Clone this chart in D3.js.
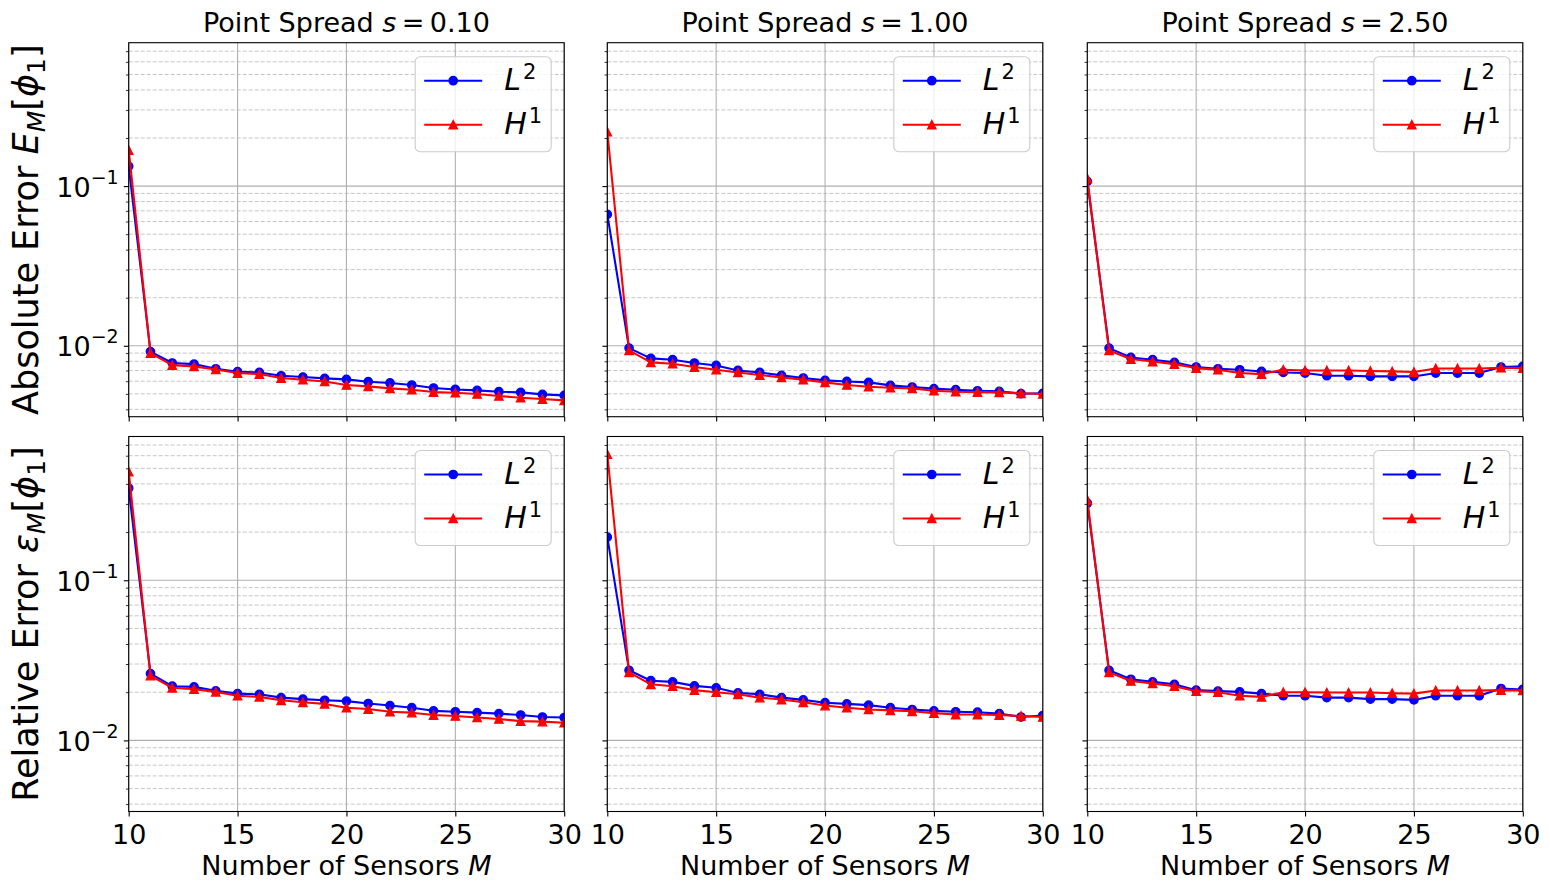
<!DOCTYPE html>
<html><head><meta charset="utf-8">
<script src="https://cdn.jsdelivr.net/npm/d3@7"></script>
<style>body{margin:0;background:#fff} svg{display:block} text{font-family:"DejaVu Sans",sans-serif;fill:#000}</style>
</head><body><svg id="c" width="1550" height="893"></svg>
<script>
const sensors = [10,11,12,13,14,15,16,17,18,19,20,21,22,23,24,25,26,27,28,29,30];
const spreads = ["0.10","1.00","2.50"];
const xTickValues = [10,15,20,25,30];
const yMajorTicks = [0.01, 0.1];
const yMajorLabels = ["\u22122", "\u22121"];
const yMinorTicks = [0.004,0.005,0.006,0.007,0.008,0.009,0.02,0.03,0.04,0.05,0.06,0.07,0.08,0.09,0.2,0.3,0.4,0.5,0.6,0.7];
const seriesNames = ["L", "H"];
const seriesSup = ["2", "1"];

const absL2_s010 = [0.133,0.0092,0.0078,0.00768,0.00718,0.00688,0.00681,0.00649,0.00637,0.00625,0.00616,0.00596,0.00585,0.00568,0.00544,0.00533,0.00526,0.00516,0.00511,0.00496,0.00489];
const absH1_s010 = [0.168,0.0090,0.00757,0.00743,0.00711,0.00675,0.00665,0.00628,0.00613,0.00598,0.00568,0.00557,0.00541,0.00531,0.00513,0.00508,0.00499,0.00485,0.00473,0.00464,0.00455];
const absL2_s100 = [0.0665,0.00967,0.00834,0.00818,0.00780,0.00753,0.00701,0.00681,0.00653,0.00628,0.00607,0.00598,0.00590,0.00565,0.00552,0.00539,0.00531,0.00523,0.00518,0.00501,0.00504];
const absH1_s100 = [0.219,0.00935,0.00787,0.00772,0.00736,0.00708,0.00681,0.00656,0.00634,0.00613,0.00590,0.00568,0.00554,0.00546,0.00541,0.00523,0.00516,0.00513,0.00511,0.00504,0.00499];
const absL2_s250 = [0.107,0.00967,0.00845,0.00818,0.00787,0.00736,0.00718,0.00708,0.00691,0.00681,0.00675,0.00649,0.00649,0.00643,0.00643,0.00643,0.00675,0.00675,0.00675,0.00736,0.00743];
const absH1_s250 = [0.1117,0.00935,0.00826,0.00797,0.00768,0.00725,0.00708,0.00675,0.00665,0.00708,0.00701,0.00701,0.00701,0.00695,0.00691,0.00685,0.00721,0.00721,0.00721,0.00729,0.00725];
const relL2_s010 = [0.376,0.0261,0.0218,0.0216,0.0204,0.0196,0.0194,0.0185,0.0181,0.0178,0.0176,0.0170,0.0165,0.0160,0.0153,0.0151,0.0149,0.0147,0.0144,0.0140,0.0139];
const relH1_s010 = [0.477,0.0254,0.0213,0.0209,0.0201,0.0190,0.0187,0.0178,0.0173,0.0169,0.0160,0.0157,0.0151,0.0149,0.0144,0.0142,0.0139,0.0136,0.0132,0.0131,0.0129];
const relL2_s100 = [0.186,0.0274,0.0236,0.0232,0.0219,0.0213,0.0198,0.0194,0.0185,0.0179,0.0172,0.0169,0.0166,0.0160,0.0156,0.0153,0.0151,0.0150,0.0147,0.0140,0.0143];
const relH1_s100 = [0.613,0.0266,0.0224,0.0218,0.0206,0.0200,0.0194,0.0185,0.0180,0.0173,0.0165,0.0160,0.0156,0.0154,0.0152,0.0148,0.0145,0.0145,0.0144,0.0142,0.0140];
const relL2_s250 = [0.303,0.0274,0.0241,0.0232,0.0224,0.0206,0.0203,0.0201,0.0196,0.0190,0.0190,0.0185,0.0185,0.0181,0.0181,0.0179,0.0190,0.0190,0.0190,0.0211,0.0208];
const relH1_s250 = [0.318,0.0266,0.0235,0.0227,0.0218,0.0203,0.0200,0.0190,0.0187,0.0200,0.0200,0.0199,0.0199,0.0199,0.0197,0.0196,0.0205,0.0205,0.0205,0.0206,0.0205];

const grid = [
  [[absL2_s010, absH1_s010],[absL2_s100, absH1_s100],[absL2_s250, absH1_s250]],
  [[relL2_s010, relH1_s010],[relL2_s100, relH1_s100],[relL2_s250, relH1_s250]]
];
const colors = ["#0000ff", "#ff0000"];

const svg = d3.select("#c");
const colLeft = [128.7, 607.3, 1087.3], colW = 435.5;
const rowTop = [42.7, 436.5], rowH = [374, 375];
const yDomain = [0.003597, 0.7907];
const TICK = 4.9, MINOR = 2.8;
const FS = 27;

function triPath(r){ return `M0,${-r}L${-r},${r}L${r},${r}Z`; }

for (let r = 0; r < 2; r++) {
  for (let c = 0; c < 3; c++) {
    const L = colLeft[c], T = rowTop[r], W = colW, H = rowH[r];
    const x = d3.scaleLinear().domain([10, 30]).range([L, L + W]);
    const y = d3.scaleLog().domain(yDomain).range([T + H, T]);
    const g = svg.append("g");
    const cid = `clip${r}${c}`;
    svg.append("clipPath").attr("id", cid).append("rect")
      .attr("x", L).attr("y", T).attr("width", W).attr("height", H);

    g.selectAll(".mg").data(yMinorTicks).join("line")
      .attr("x1", L).attr("x2", L + W)
      .attr("y1", d => y(d)).attr("y2", d => y(d))
      .attr("stroke", "#b8b8b8").attr("stroke-width", 0.8)
      .attr("stroke-dasharray", "4,2");
    g.selectAll(".Mg").data(yMajorTicks).join("line")
      .attr("x1", L).attr("x2", L + W)
      .attr("y1", d => y(d)).attr("y2", d => y(d))
      .attr("stroke", "#b0b0b0").attr("stroke-width", 1.1);
    g.selectAll(".xg").data(xTickValues).join("line")
      .attr("x1", d => x(d)).attr("x2", d => x(d))
      .attr("y1", T).attr("y2", T + H)
      .attr("stroke", "#b0b0b0").attr("stroke-width", 1.1);

    const pg = g.append("g").attr("clip-path", `url(#${cid})`);
    grid[r][c].forEach((vals, si) => {
      const pts = sensors.map((s, i) => [s, vals[i]]);
      pg.append("path").datum(pts)
        .attr("d", d3.line().x(d => x(d[0])).y(d => y(d[1])))
        .attr("fill", "none").attr("stroke", colors[si]).attr("stroke-width", 2.1)
        .attr("stroke-linejoin", "round");
      if (si === 0) {
        pg.selectAll(null).data(pts).join("circle")
          .attr("cx", d => x(d[0])).attr("cy", d => y(d[1])).attr("r", 4.2)
          .attr("fill", colors[si]).attr("stroke", colors[si]).attr("stroke-width", 1.3);
      } else {
        pg.selectAll(null).data(pts).join("path")
          .attr("transform", d => `translate(${x(d[0])},${y(d[1])})`)
          .attr("d", triPath(4.2))
          .attr("fill", colors[si]).attr("stroke", colors[si]).attr("stroke-width", 1.3)
          .attr("stroke-linejoin", "miter");
      }
    });

    const xa = g.append("g").attr("transform", `translate(0,${T + H})`)
      .call(d3.axisBottom(x).tickValues(xTickValues).tickSize(TICK).tickFormat(r === 1 ? d3.format("d") : ""));
    xa.select(".domain").remove();
    xa.selectAll(".tick line").attr("stroke", "#000").attr("stroke-width", 1.1);
    xa.selectAll(".tick text").attr("y", 32).attr("dy", 0)
      .style("font-size", FS + "px").style("font-family", "DejaVu Sans");

    const ym = g.append("g").attr("transform", `translate(${L},0)`)
      .call(d3.axisLeft(y).tickValues(yMinorTicks).tickSize(MINOR).tickFormat(""));
    ym.select(".domain").remove();
    ym.selectAll(".tick line").attr("stroke", "#000").attr("stroke-width", 0.8);
    const yM = g.append("g").attr("transform", `translate(${L},0)`)
      .call(d3.axisLeft(y).tickValues(yMajorTicks).tickSize(TICK).tickFormat(""));
    yM.select(".domain").remove();
    yM.selectAll(".tick line").attr("stroke", "#000").attr("stroke-width", 1.1);
    if (c === 0) {
      yM.selectAll(".tick").each(function(d, i) {
        const t = d3.select(this).append("text")
          .attr("x", -10).attr("y", 10).attr("text-anchor", "end")
          .style("font-size", FS + "px").style("font-family", "DejaVu Sans");
        t.append("tspan").text("10");
        t.append("tspan").attr("dy", -13).style("font-size", "19px").text(yMajorLabels[i]);
      });
    }

    g.append("rect").attr("x", L).attr("y", T).attr("width", W).attr("height", H)
      .attr("fill", "none").attr("stroke", "#000").attr("stroke-width", 1.1);

    const LW = 136, LH = 95;
    const lg = g.append("g").attr("transform", `translate(${L + W - 13 - LW},${T + 14})`);
    lg.append("rect").attr("width", LW).attr("height", LH).attr("rx", 5)
      .attr("fill", "#fff").attr("fill-opacity", 0.8)
      .attr("stroke", "#cccccc").attr("stroke-width", 1.1);
    const rowsY = [24, 68];
    seriesNames.forEach((nm, si) => {
      const yy = rowsY[si];
      lg.append("line").attr("x1", 9).attr("x2", 67).attr("y1", yy).attr("y2", yy)
        .attr("stroke", colors[si]).attr("stroke-width", 2.1);
      if (si === 0) {
        lg.append("circle").attr("cx", 38).attr("cy", yy).attr("r", 4.2)
          .attr("fill", colors[si]).attr("stroke", colors[si]).attr("stroke-width", 1.3);
      } else {
        lg.append("path").attr("transform", `translate(38,${yy})`).attr("d", triPath(4.2))
          .attr("fill", colors[si]).attr("stroke", colors[si]).attr("stroke-width", 1.3);
      }
      const t = lg.append("text").attr("x", 89).attr("y", yy + 9.5).style("font-size", "30px");
      t.append("tspan").style("font-style", "italic").text(nm);
      t.append("tspan").attr("dx", 2).attr("dy", -11).style("font-size", "21px").text(seriesSup[si]);
    });

    if (r === 0) {
      const t = svg.append("text").attr("x", L + W / 2).attr("y", 32)
        .attr("text-anchor", "middle").style("font-size", FS + "px");
      t.append("tspan").text("Point Spread ");
      t.append("tspan").style("font-style", "italic").text("s");
      t.append("tspan").text("\u2009=\u2009" + spreads[c]);
    }
    if (r === 1) {
      const t = svg.append("text").attr("x", L + W / 2).attr("y", 875)
        .attr("text-anchor", "middle").style("font-size", FS + "px");
      t.append("tspan").text("Number of Sensors ");
      t.append("tspan").style("font-style", "italic").text("M");
    }
    if (c === 0) {
      const cy = T + H / 2;
      const t = svg.append("text").attr("transform", `translate(38.3,${cy}) rotate(-90)`)
        .attr("text-anchor", "middle").style("font-size", "35px");
      t.append("tspan").text(r === 0 ? "Absolute Error " : "Relative Error ");
      t.append("tspan").style("font-style", "italic").text(r === 0 ? "E" : "\u03B5");
      t.append("tspan").style("font-style", "italic").style("font-size", "25px").attr("dy", 7).text("M");
      t.append("tspan").attr("dy", -7).text("[");
      t.append("tspan").style("font-style", "italic").text("\u03D5");
      t.append("tspan").style("font-size", "25px").attr("dy", 7).text("1");
      t.append("tspan").attr("dy", -7).text("]");
    }
  }
}
</script></body></html>
